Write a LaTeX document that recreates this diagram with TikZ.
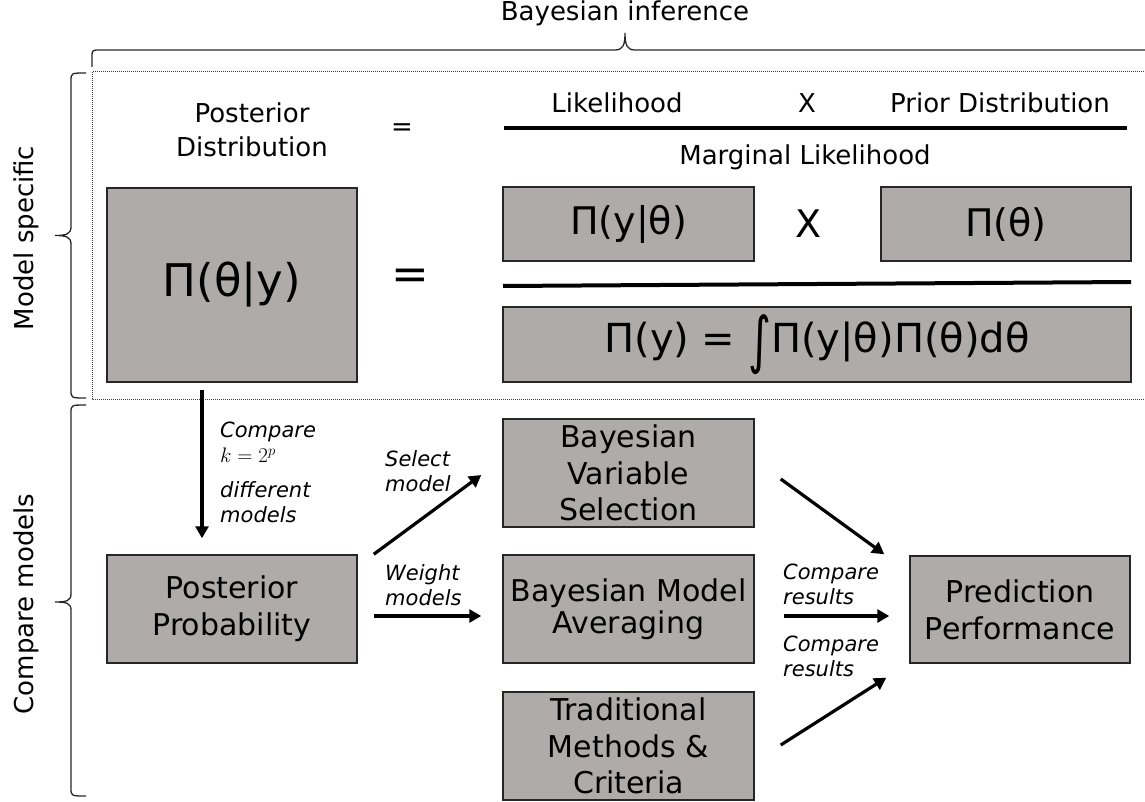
\documentclass[tikz,border=0pt]{standalone}
\usepackage{fix-cm}
\usepackage{fontspec}
\setmainfont{DejaVu Sans}
\usetikzlibrary{arrows.meta,positioning}
\definecolor{kastengrau}{HTML}{AFABAB}

\tikzset{
  kasten/.style={draw=black!85, fill=kastengrau, line width=1.5pt, inner sep=0pt,
    align=center, font=\fontsize{30}{36.7}\selectfont},
  pfeil/.style={line width=3.2pt, -{Triangle[length=12pt,width=13pt]}},
  notiz/.style={font=\itshape\fontsize{21}{25}\selectfont, align=left, inner sep=0pt, anchor=north west},
  beschr/.style={font=\fontsize{26}{34}\selectfont, inner sep=0pt},
  klammer/.style={line width=1.3pt, black!85},
}

\begin{document}
\begin{tikzpicture}[x=1pt,y=-1pt]
		\useasboundingbox (0,0) rectangle (1145,802);

		% Rahmen und Klammern
		\draw[densely dotted, line width=1pt, black!75] (1160,72) -- (92,72) -- (92,399) -- (1160,399);
		\draw[klammer] (92,67) -- (92,58) .. controls (92,50) .. (100,50) -- (615,50)
			.. controls (623,50) and (625,45) .. (625,33) .. controls (625,45) and (627,50) .. (635,50)
			-- (1150,50) .. controls (1158,50) .. (1158,58) -- (1158,67);
		\draw[klammer] (86,73) .. controls (71,73) .. (71,81) -- (71,227)
			.. controls (71,234) and (66,235.5) .. (55,235.5) .. controls (66,235.5) and (71,237) .. (71,244)
			-- (71,390) .. controls (71,398) .. (86,398);
		\draw[klammer] (86,405) .. controls (71,405) .. (71,413) -- (71,594)
			.. controls (71,601) and (66,602) .. (55,602) .. controls (66,602) and (71,603) .. (71,610)
			-- (71,788) .. controls (71,796) .. (86,796);

		% Beschriftungen
		\node[beschr, anchor=base] (bayes) at (625,21) {Bayesian inference};
		\node[beschr, anchor=base, rotate=90] (spez) at (33,238) {Model specific};
		\node[beschr, anchor=base, rotate=90] (vergl) at (33,604) {Compare models};
		\node[beschr, anchor=north, align=center] (postdist) at (252,103) {Posterior\\Distribution};
		\node[beschr] (gl1) at (402,130) {=};
		\node[beschr, anchor=base] (likw) at (617,113) {Likelihood};
		\node[beschr, anchor=base] (mal1) at (807,113) {X};
		\node[beschr, anchor=base] (priorw) at (1000,113) {Prior Distribution};
		\node[beschr, anchor=base] (margw) at (805,165) {Marginal Likelihood};

		% Formel
		\node[kasten, minimum width=250, minimum height=194, font=\fontsize{45}{50}\selectfont] (post) at (232,285) {Π(θ|y)};
		\node[kasten, minimum width=251, minimum height=74, font=\fontsize{38}{44}\selectfont] (lik) at (628.5,224) {Π(y|θ)};
		\node[kasten, minimum width=250, minimum height=74, font=\fontsize{38}{44}\selectfont] (prior) at (1006,224) {Π(θ)};
		\node[kasten, minimum width=628, minimum height=75, font=\fontsize{40}{44}\selectfont] (marg) at (817,344.5)
			{Π(y) = \raisebox{-0.22em}{\scalebox{1.1}[1.55]{∫}}Π(y|θ)Π(θ)dθ};
		\node[font=\fontsize{45}{50}\selectfont, inner sep=0pt] (gl2) at (410,279) {=};
		\node[font=\fontsize{38}{44}\selectfont, inner sep=0pt] (mal2) at (809,224) {X};
		\draw[line width=4pt] (504,128) -- (1127,128);
		\draw[line width=4pt] (503,286) -- (1131,282);

		% Modellvergleich
		\node[kasten, minimum width=250, minimum height=108] (pp) at (232,609) {Posterior\\Probability};
		\node[kasten, minimum width=251, minimum height=108] (bvs) at (628.5,473) {Bayesian\\Variable\\Selection};
		\node[kasten, minimum width=251, minimum height=108, font=\fontsize{30}{32}\selectfont] (bma) at (628.5,609) {Bayesian Model\\Averaging};
		\node[kasten, minimum width=251, minimum height=108] (tmc) at (628.5,746) {Traditional\\Methods \&\\Criteria};
		\node[kasten, minimum width=220, minimum height=107] (pred) at (1020,609.5) {Prediction\\Performance};

		% Pfeile
		\draw[pfeil] ([xshift=-30,yshift=-7]post.south) -- ([xshift=-30,yshift=16]pp.north);
		\draw[pfeil] ([xshift=16]pp.north east) -- ([xshift=-21,yshift=-2]bvs.west);
		\draw[pfeil] ([xshift=16,yshift=-7]pp.east) -- ([xshift=-21,yshift=-7]bma.west);
		\draw[pfeil] ([xshift=26,yshift=-6]bvs.east) -- ([xshift=-25,yshift=1]pred.north west);
		\draw[pfeil] ([xshift=29,yshift=-7]bma.east) -- ([xshift=-20,yshift=-6.5]pred.west);
		\draw[pfeil] ([xshift=26,yshift=1]tmc.east) -- ([xshift=-23,yshift=-14]pred.south west);

		% Notizen
		\node[notiz] (n1) at (220,422) {Compare\\$k = 2^p$\\[10pt]different\\models};
		\node[notiz] (n2) at (385,450) {Select\\model};
		\node[notiz] (n3) at (385,564) {Weight\\models};
		\node[notiz] (n4) at (783,564) {Compare\\results};
		\node[notiz] (n5) at (783,636) {Compare\\results};
	\end{tikzpicture}
\end{document}
